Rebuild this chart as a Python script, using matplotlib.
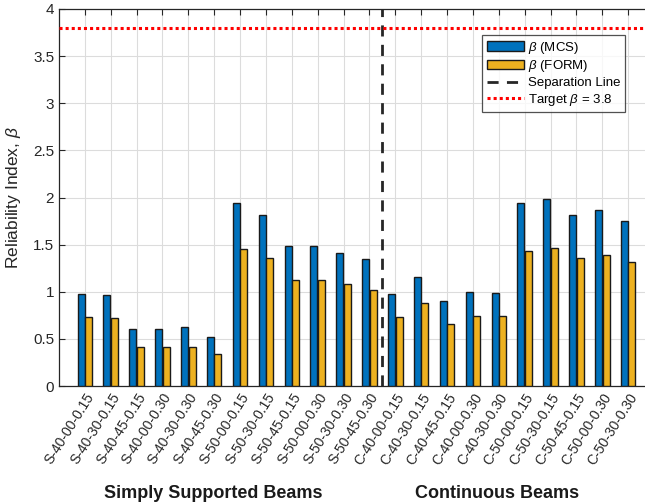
import numpy as np
import matplotlib
matplotlib.use("Agg")
import matplotlib.pyplot as plt
from matplotlib.lines import Line2D
from matplotlib.patches import Patch

plt.rcParams['font.family'] = ['Liberation Sans', 'DejaVu Sans']
plt.rcParams['mathtext.fontset'] = 'custom'
plt.rcParams['mathtext.it'] = 'Liberation Sans:italic'

labels = ["S-40-00-0.15", "S-40-30-0.15", "S-40-45-0.15", "S-40-00-0.30",
          "S-40-30-0.30", "S-40-45-0.30", "S-50-00-0.15", "S-50-30-0.15",
          "S-50-45-0.15", "S-50-00-0.30", "S-50-30-0.30", "S-50-45-0.30",
          "C-40-00-0.15", "C-40-30-0.15", "C-40-45-0.15", "C-40-00-0.30",
          "C-40-30-0.30", "C-50-00-0.15", "C-50-30-0.15", "C-50-45-0.15",
          "C-50-00-0.30", "C-50-30-0.30"]
beta_mcs = [0.975, 0.965, 0.61, 0.61, 0.624, 0.525, 1.943, 1.819, 1.489, 1.489,
            1.415, 1.344, 0.975, 1.16, 0.904, 1.0, 0.989, 1.943, 1.989, 1.819,
            1.869, 1.755]
beta_form = [0.734, 0.72, 0.415, 0.415, 0.415, 0.344, 1.454, 1.355, 1.12, 1.12,
             1.085, 1.014, 0.734, 0.879, 0.66, 0.748, 0.748, 1.429, 1.465, 1.355,
             1.394, 1.319]
target_beta = 3.8
n_simple = 12

blue = "#0072BD"
gold = "#EDB120"
axcol = "#262626"

fig = plt.figure(figsize=(6.45, 5.03), dpi=100)
ax = fig.add_axes([59 / 645, 117 / 503, 595 / 645, 377 / 503])

x = np.arange(1, len(labels) + 1)
w = 0.27
off = 0.145
ax.bar(x - off, beta_mcs, w, color=blue, edgecolor="#1a1a1a", linewidth=1, zorder=3)
ax.bar(x + off, beta_form, w, color=gold, edgecolor="#1a1a1a", linewidth=1, zorder=3)

ax.axvline(n_simple + 0.5, color="#262626", linestyle=(0, (4, 3)), linewidth=2, zorder=4)
ax.axhline(target_beta, color="#ff0000", linestyle=(0, (1, 1)), linewidth=2.2, zorder=4)

ax.set_xlim(0, 23)
ax.set_ylim(0, 4)
ax.set_yticks(np.arange(0, 4.01, 0.5))
ax.set_yticklabels(["0", "0.5", "1", "1.5", "2", "2.5", "3", "3.5", "4"])
ax.set_xticks(x)
ax.set_xticklabels(labels, rotation=58, ha="right", rotation_mode="anchor", fontsize=10)
ax.tick_params(axis="both", direction="in", length=4, colors=axcol, labelsize=10,
               top=True, right=True)
ax.tick_params(axis="y", labelsize=11)
ax.grid(True, color="#dcdcdc", linewidth=0.8, zorder=0)
ax.set_axisbelow(True)
for s in ax.spines.values():
    s.set_color(axcol)
    s.set_linewidth(0.9)

ax.set_ylabel(r"Reliability Index, $\it{\beta}$", fontsize=12.5, color=axcol, labelpad=7)

fig.text(213 / 645, 1 - 494 / 503, "Simply Supported Beams", ha="center", va="center",
         fontsize=13, fontweight="bold", color="#1a1a1a")
fig.text(497 / 645, 1 - 494 / 503, "Continuous Beams", ha="center", va="center",
         fontsize=13, fontweight="bold", color="#1a1a1a")

handles = [Patch(facecolor=blue, edgecolor="#1a1a1a"),
           Patch(facecolor=gold, edgecolor="#1a1a1a"),
           Line2D([], [], color="#262626", linestyle=(0, (4, 3)), linewidth=2),
           Line2D([], [], color="#ff0000", linestyle=(0, (1, 1)), linewidth=2.2)]
names = [r"$\beta$ (MCS)", r"$\beta$ (FORM)", "Separation Line", r"Target $\beta$ = 3.8"]
leg = ax.legend(handles, names, loc="upper right",
                bbox_to_anchor=(625 / 645, 1 - 35 / 503), bbox_transform=fig.transFigure,
                fontsize=9.5, frameon=True, fancybox=False, handlelength=2.8,
                handletextpad=0.3, borderpad=0.35, labelspacing=0.2, borderaxespad=0)
leg.get_frame().set_edgecolor("#262626")
leg.get_frame().set_linewidth(0.9)
leg.set_zorder(10)

fig.savefig("out.png", dpi=100)
